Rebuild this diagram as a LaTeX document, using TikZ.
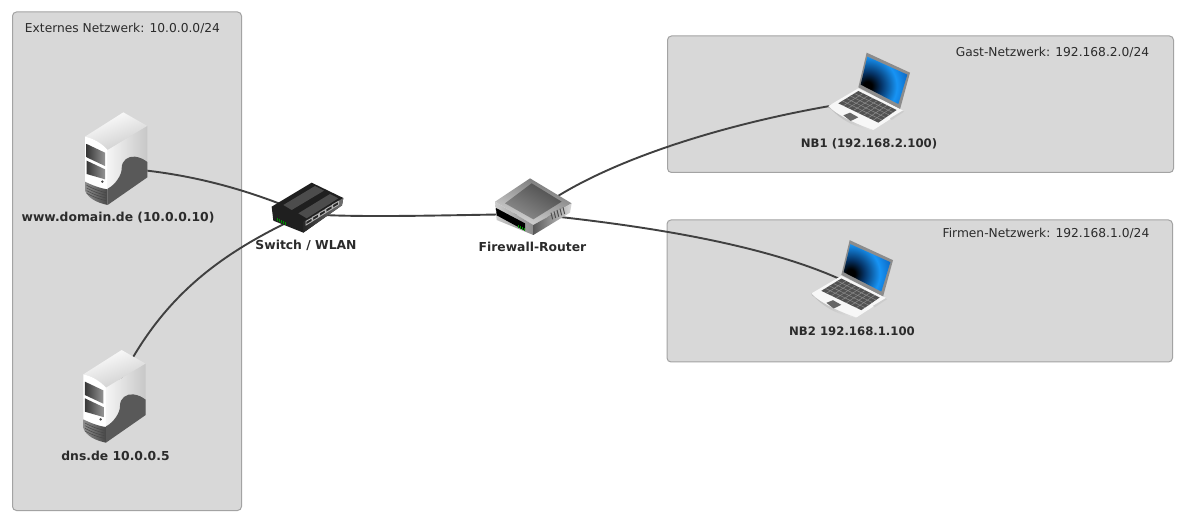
\documentclass[tikz,border=0pt]{standalone}
\usepackage{fontspec}
\setmainfont{DejaVu Sans}
\definecolor{groupfill}{HTML}{D8D8D8}
\definecolor{groupline}{HTML}{A3A3A3}
\definecolor{wire}{HTML}{404040}
\definecolor{ink}{HTML}{2B2B2B}
\pgfdeclareradialshading{screenglow}{\pgfpointorigin}{
  rgb(0bp)=(0,0,0);
  rgb(2bp)=(0,0,0);
  rgb(6bp)=(0.02,0.20,0.40);
  rgb(13bp)=(0.09,0.58,0.96);
  rgb(18bp)=(0.05,0.42,0.78);
  rgb(25bp)=(0.03,0.22,0.48);
  rgb(50bp)=(0.03,0.22,0.48)}
\tikzset{
  groupbox/.style={draw=groupline,fill=groupfill,line width=1pt,rounded corners=4pt},
  grouptext/.style={text=ink,font=\fontsize{12.25}{14}\selectfont,inner sep=0pt,anchor=base},
  devtext/.style={text=ink,font=\fontsize{12.35}{14}\selectfont\bfseries,inner sep=0pt,anchor=base},
  nbtext/.style={text=ink,font=\fontsize{11.7}{14}\selectfont\bfseries,inner sep=0pt,anchor=base},
  anchorpt/.style={inner sep=0pt,minimum size=1pt},
  wireline/.style={draw=wire,line width=1.9pt},
  zoomed/.style={x=0.33333pt,y=-0.33333pt},
  server/.pic={
    \begin{scope}[zoomed]
      \shade[left color=white,right color=white!80!black,shading angle=20]
        (75,110) .. controls (100,115) and (125,130) .. (143,150) -- (262,78) -- (190,37) -- cycle;
      \fill[white] (75,110) .. controls (100,115) and (125,130) .. (143,150) -- (143,315) -- (75,272) -- cycle;
      \shade[left color=white!96!black,right color=white!78!black]
        (143,150) -- (262,78) -- (262,232) -- (143,315) -- cycle;
      \fill[black!65]
        (143,315) -- (143,266) .. controls (165,255) and (186,225) .. (185,205)
        .. controls (185,180) and (205,168) .. (225,170)
        .. controls (240,172) and (252,178) .. (262,186) -- (262,232) -- cycle;
      \shade[left color=black!45,right color=black!72]
        (75,245) .. controls (95,255) and (120,265) .. (143,268) -- (143,315)
        .. controls (110,308) and (85,295) .. (75,272) -- cycle;
      \foreach \q in {0,1,2,3}
        \draw[black!72,line width=.5pt] (80,{256+8*\q}) .. controls (100,{267+8*\q}) and (120,{274+8*\q}) .. (138,{278+8*\q});
      \shade[left color=black!78,right color=black!42]
        (80,132) -- (135,158) -- (135,198) -- (80,172) -- cycle;
      \shade[left color=black!78,right color=black!42]
        (80,182) -- (135,208) -- (135,238) -- (80,222) -- cycle;
      \fill[black!70] (127,245) circle (4);
    \end{scope}
  },
  switchicon/.pic={
    \begin{scope}[zoomed]
      \fill[black!88] (65,110) -- (185,38) -- (280,84) -- (276,106) -- (160,188) -- (70,152) -- cycle;
      \fill[black!70] (100,105) -- (195,48) -- (222,62) -- (125,120) -- cycle;
      \fill[black!70] (145,130) -- (240,72) -- (265,85) -- (170,145) -- cycle;
      \shade[left color=black!85,right color=black!55]
        (160,155) -- (280,84) -- (276,106) -- (160,188) -- cycle;
      \foreach \q in {0,1,2,3,4}
        \fill[black!85,draw=white!70!black,line width=.9pt]
          ({168+\q*20},{154-\q*12.5}) -- ({186+\q*20},{144-\q*12.5}) -- ({186+\q*20},{154-\q*12.5}) -- ({168+\q*20},{165-\q*12.5}) -- cycle;
      \foreach \q in {0,1,2,3,4}
        \fill[green!55!black] ({82+\q*6},{145+\q*3}) rectangle +(3,9);
    \end{scope}
  },
  routericon/.pic={
    \begin{scope}[zoomed]
      \shade[left color=black!55,right color=white!85!black,shading angle=-20]
        (75,95) -- (180,25) -- (305,100) -- (190,165) -- cycle;
      \shade[left color=black!70,right color=black!45,shading angle=-30]
        (105,100) -- (185,40) -- (275,95) -- (190,148) -- cycle;
      \shade[left color=white!80!black,right color=black!45]
        (75,95) -- (190,165) -- (190,195) -- (80,150) -- cycle;
      \fill[black] (78,114) -- (165,160) -- (165,182) -- (80,136) -- cycle;
      \shade[left color=black!65,right color=white!85!black]
        (190,165) -- (305,100) -- (300,128) -- (190,195) -- cycle;
      \foreach \q in {0,1,2,3,4}
        \draw[black!70,line width=1pt] ({248+\q*9},{148-\q*4}) -- ({243+\q*9},{128-\q*4});
      \foreach \q in {0,1,2,3}
        \fill[green!60!black] ({143+\q*6},{164+\q*3}) rectangle +(3,11);
    \end{scope}
  },
  laptop/.pic={
    \begin{scope}[zoomed]
      \fill[white!55!black] (230,38) -- (360,98) -- (330,208) -- (205,142) -- cycle;
      \begin{scope}
        \clip (232,50) -- (352,104) -- (325,192) -- (212,134) -- cycle;
        \shade[shading=screenglow] (232,138) circle (170);
      \end{scope}
      \fill[white!97!black]
        (115,198) .. controls (150,230) and (200,262) .. (250,270) -- (340,212) -- (205,145) -- cycle;
      \shade[left color=white!72!black,right color=white!88!black]
        (115,198) .. controls (150,240) and (200,265) .. (250,270)
        .. controls (205,255) and (155,232) .. (118,204) -- cycle;
      \fill[black!68] (205,153) -- (320,210) -- (265,248) -- (145,190) -- cycle;
      \foreach \q in {1,2,3,4}
        \draw[black!45,line width=.5pt] ({145+\q*12},{190-\q*7.4}) -- ({265+\q*11},{248-\q*7.6});
      \foreach \q in {1,...,7}
        \draw[black!45,line width=.5pt] ({145+\q*15},{190+\q*7.2}) -- ({205+\q*14.4},{153+\q*7.1});
      \fill[black!60] (160,226) -- (180,218) -- (205,232) -- (182,243) -- cycle;
      \fill[white!80!black] (300,235) -- (338,212) -- (342,215) -- (305,240) -- cycle;
    \end{scope}
  }
}
\begin{document}
\begin{tikzpicture}[x=1pt,y=-1pt]
  \useasboundingbox (0,0) rectangle (1184,521);
  \fill[white] (0,0) rectangle (1184,521);
  % network areas
  \draw[groupbox] (12.5,12) rectangle (241.5,510.5);
  \draw[groupbox] (667.5,36) rectangle (1173.5,172.5);
  \draw[groupbox] (667,220) rectangle (1172.5,362);
  % connection points of the devices
  \node[anchorpt] (www) at (118,168) {};
  \node[anchorpt] (dns) at (118,385) {};
  \node[anchorpt] (sw) at (305,214) {};
  \node[anchorpt] (fw) at (532,214) {};
  \node[anchorpt] (nb1) at (868,100) {};
  \node[anchorpt] (nb2) at (862,290) {};
  % connectors
  \draw[wireline] (www.center) .. controls (180,172) and (240,186) .. (sw.center);
  \draw[wireline] (dns.center) .. controls (160,300) and (215,255) .. (sw.center);
  \draw[wireline] (sw.center) .. controls (360,218) and (450,215) .. (fw.center);
  \draw[wireline] (fw.center) .. controls (600,160) and (740,118) .. (nb1.center);
  \draw[wireline] (fw.center) .. controls (640,225) and (780,245) .. (nb2.center);
  % devices
  \pic at (60,100) {server};
  \pic at (58.3,337.7) {server};
  \pic at (250,170) {switchicon};
  \pic at (470,170) {routericon};
  \pic at (790,40) {laptop};
  \pic at (773,227.5) {laptop};
  % labels
  \node[grouptext] (tExt) at (122.5,33) {Externes Netzwerk: 10.0.0.0/24};
  \node[grouptext] (tGast) at (1052.5,57) {Gast-Netzwerk: 192.168.2.0/24};
  \node[grouptext] (tFirm) at (1046,238) {Firmen-Netzwerk: 192.168.1.0/24};
  \node[devtext] (lWww) at (118,222) {www.domain.de (10.0.0.10)};
  \node[devtext] (lDns) at (115.5,460) {dns.de 10.0.0.5};
  \node[devtext] (lSw) at (306,250) {Switch / WLAN};
  \node[devtext] (lFw) at (532.5,252) {Firewall-Router};
  \node[nbtext] (lNb1) at (869,148) {NB1 (192.168.2.100)};
  \node[nbtext] (lNb2) at (852,335.5) {NB2 192.168.1.100};
\end{tikzpicture}
\end{document}
